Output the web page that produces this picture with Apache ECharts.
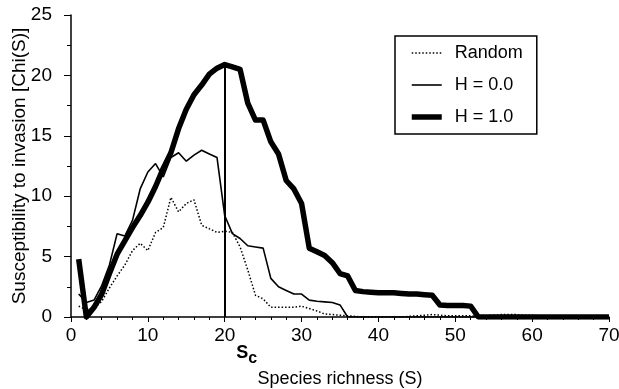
<!DOCTYPE html>
<html>
<head>
<meta charset="utf-8">
<script src="https://cdn.jsdelivr.net/npm/echarts@6/dist/echarts.min.js"></script>
<style>
html,body{margin:0;padding:0;background:#fff;}
#c{width:619px;height:389px;}
</style>
</head>
<body>
<div id="c"></div>
<script>
// Species richness S = 1..70
const richness = [];
for (let s = 1; s <= 70; s++) richness.push(s);

const randomVals = [0.9,0.6,0.7,1.3,2.4,3.4,4.3,5.5,6.1,5.5,
  7.0,7.4,9.9,8.7,9.4,9.7,7.6,7.3,7.0,7.1,
  7.0,5.8,3.9,1.8,1.5,0.8,0.8,0.8,0.8,0.9,
  0.7,0.5,0.25,0.2,0.15,0.1,0.05,0,0,0,
  0,0,0,0.05,0.1,0.15,0.2,0.15,0.1,0.1,
  0.1,0.1,0.05,0.1,0.15,0.2,0.2,0.2,0.15,0.15,
  0.1,0.05,0.05,0.05,0.05,0.05,0.05,0.05,0.05,0.05];

const h00Vals = [1.9,1.2,1.4,2.6,4.3,6.9,6.7,8.0,10.6,12.0,
  12.7,11.6,13.2,13.6,12.9,13.4,13.8,13.5,13.2,8.4,
  6.9,6.5,5.9,5.8,5.7,3.2,2.5,2.2,1.9,1.9,
  1.4,1.3,1.25,1.2,1.0,0,0,0,0,0,
  0,0,0,0,0,0,0,0,0,0,
  0,0,0,0,0,0,0,0,0,0,
  0,0,0,0,0,0,0,0,0,0];

const h10Vals = [4.8,0,0.8,1.9,3.6,5.2,6.3,7.4,8.4,9.5,
  10.8,12.3,13.6,15.6,17.2,18.4,19.2,20.1,20.6,20.9,
  20.7,20.5,17.7,16.3,16.3,14.5,13.5,11.3,10.6,9.4,
  5.7,5.4,5.1,4.5,3.6,3.4,2.2,2.1,2.05,2.0,
  2.0,2.0,1.95,1.9,1.9,1.85,1.8,1.0,0.95,0.95,
  0.95,0.9,0,0,0,0,0,0,0,0,
  0,0,0,0,0,0,0,0,0,0];

const seriesNames = ['Random', 'H = 0.0', 'H = 1.0'];
const criticalS = 20;
const criticalPeak = 20.9;

const xTicks = {min: 0, max: 70, interval: 10};
const yTicks = {min: 0, max: 25, interval: 5};

function pairs(vals) { return richness.map((s, i) => [s, vals[i]]); }

const styles = [
  {color: '#000', width: 1.5, type: [1.5, 2]},
  {color: '#000', width: 1.6, type: 'solid'},
  {color: '#000', width: 5.5, type: 'solid', join: 'round'}
];

const chart = echarts.init(document.getElementById('c'), null, {renderer: 'canvas'});
const font = 'Liberation Sans, Arial, Helvetica, sans-serif';
chart.setOption({
  animation: false,
  backgroundColor: '#fff',
  textStyle: {fontFamily: font, color: '#000'},
  grid: {left: 71, right: 10, top: 15, bottom: 72, containLabel: false, outerBoundsMode: 'none'},
  legend: {
    data: seriesNames.map((n, i) => ({name: n, lineStyle: styles[i], itemStyle: {opacity: 0}})),
    orient: 'vertical',
    left: 395, top: 36,
    padding: [8, 14, 8, 14],
    itemWidth: 30, itemHeight: 14, itemGap: 14,
    borderColor: '#000', borderWidth: 1.5,
    itemStyle: {opacity: 0},
    textStyle: {fontSize: 18, color: '#000', fontFamily: font, padding: [0, 0, 0, 8]}
  },
  xAxis: {
    type: 'value', min: xTicks.min, max: xTicks.max, interval: xTicks.interval,
    axisLine: {show: true, onZero: false, lineStyle: {color: '#000', width: 1.5}},
    axisTick: {show: true, inside: false, length: 5, lineStyle: {color: '#000', width: 1}},
    minorTick: {show: true, splitNumber: 5, length: 3, lineStyle: {color: '#000', width: 1}},
    axisLabel: {fontSize: 19, color: '#000', margin: 9, fontFamily: font},
    splitLine: {show: false},
    name: 'Species richness (S)', nameLocation: 'middle', nameGap: 53,
    nameTextStyle: {fontSize: 18, color: '#000', fontFamily: font}
  },
  yAxis: [{
    type: 'value', min: yTicks.min, max: yTicks.max, interval: yTicks.interval,
    axisLine: {show: true, onZero: false, lineStyle: {color: '#000', width: 1.5}},
    axisTick: {show: false}, axisLabel: {show: false},
    splitLine: {show: false},
    name: 'Susceptibility to invasion [Chi(S)]', nameLocation: 'middle', nameGap: 42,
    nameTextStyle: {fontSize: 19, color: '#000', fontFamily: font}
  }, {
    type: 'value', min: yTicks.min, max: yTicks.max, interval: yTicks.interval,
    position: 'left', offset: 8,
    axisLine: {show: false},
    axisTick: {show: true, inside: false, length: 7, lineStyle: {color: '#000', width: 1}},
    minorTick: {show: true, splitNumber: 2, length: 4, lineStyle: {color: '#000', width: 1}},
    axisLabel: {fontSize: 19, color: '#000', margin: 11, fontFamily: font},
    splitLine: {show: false}
  }],
  series: [{
    name: seriesNames[0], type: 'line', data: pairs(randomVals), symbol: 'none',
    lineStyle: styles[0], itemStyle: {color: '#000'}, z: 2
  }, {
    name: seriesNames[1], type: 'line', data: pairs(h00Vals), symbol: 'none',
    lineStyle: styles[1], itemStyle: {color: '#000'}, z: 3
  }, {
    name: seriesNames[2], type: 'line', data: pairs(h10Vals), symbol: 'none',
    lineStyle: styles[2], itemStyle: {color: '#000'}, z: 4,
    markLine: {
      silent: true, symbol: 'none',
      lineStyle: {color: '#000', width: 2, type: 'solid'},
      label: {
        show: true, position: 'start', offset: [22, 22],
        formatter: '{a|S}{b|c}',
        rich: {
          a: {fontSize: 18, fontWeight: 'bold', color: '#000', fontFamily: font, verticalAlign: 'top', lineHeight: 22},
          b: {fontSize: 16, fontWeight: 'bold', color: '#000', fontFamily: font, verticalAlign: 'top', lineHeight: 22, padding: [7, 0, 0, 0]}
        }
      },
      data: [[{coord: [criticalS, 0]}, {coord: [criticalS, criticalPeak]}]]
    }
  }]
});
</script>
</body>
</html>
